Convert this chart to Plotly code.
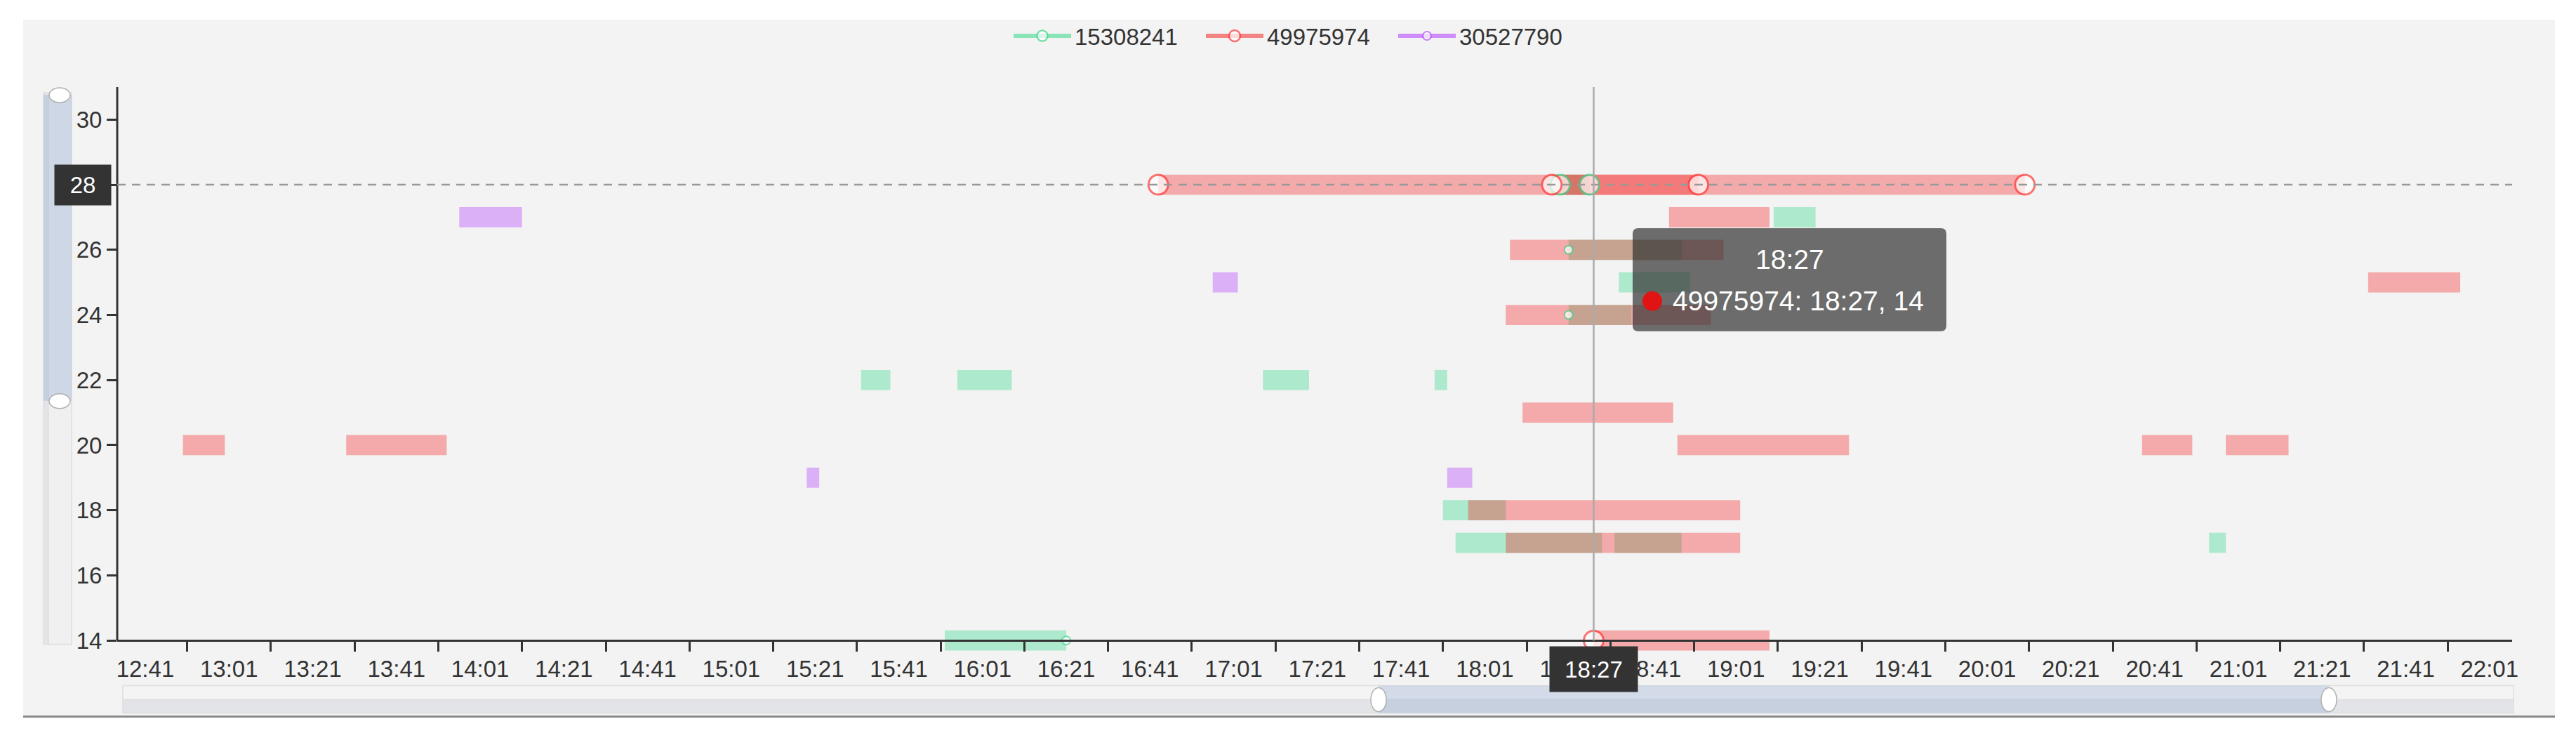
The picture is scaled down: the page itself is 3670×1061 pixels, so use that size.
import plotly.graph_objects as go

DAY = "2024-01-01 "

SERIES = ["15308241", "49975974", "30527790"]

# ---- series 15308241 (green) ----
G_ROW = [28, 27, 26, 25, 24, 22, 22, 22, 22, 18, 17, 17, 17, 14]
G_START = ["18:19", "19:10", "18:21", "18:33", "18:21", "15:32", "15:55", "17:08",
           "17:49", "17:51", "17:54", "18:32", "20:54", "15:52"]
G_END = ["18:26", "19:20", "18:48", "18:50", "18:36", "15:39", "16:08", "17:19",
         "17:52", "18:06", "18:29", "18:48", "20:58", "16:21"]

# ---- series 49975974 (red) ----
R_ROW = [28, 28, 27, 26, 25, 24, 21, 20, 20, 20, 20, 20, 18, 17, 14]
R_START = ["16:43", "18:17", "18:45", "18:07", "21:32", "18:06", "18:10", "12:50",
           "13:29", "18:47", "20:38", "20:58", "17:57", "18:06", "18:27"]
R_END = ["18:52", "20:10", "19:09", "18:58", "21:54", "18:55", "18:46", "13:00",
         "13:53", "19:28", "20:50", "21:13", "19:02", "19:02", "19:09"]

# ---- series 30527790 (purple) ----
P_ROW = [27, 25, 19, 19]
P_START = ["13:56", "16:56", "15:19", "17:52"]
P_END = ["14:11", "17:02", "15:22", "17:58"]

# points drawn with a symbol
G_PT_T = ["18:19", "18:26", "18:21", "18:21", "16:21"]
G_PT_Y = [28, 28, 26, 24, 14]
R_PT_T = ["16:43", "18:17", "18:52", "20:10", "18:27"]
R_PT_Y = [28, 28, 28, 28, 14]
P_PT_T = []
P_PT_Y = []

TICK_LABELS = ["12:41", "13:01", "13:21", "13:41", "14:01", "14:21", "14:41", "15:01",
               "15:21", "15:41", "16:01", "16:21", "16:41", "17:01", "17:21", "17:41",
               "18:01", "18:21", "18:41", "19:01", "19:21", "19:41", "20:01", "20:21",
               "20:41", "21:01", "21:21", "21:41", "22:01"]
TICK_MARKS = ["12:51", "13:11", "13:31", "13:51", "14:11", "14:31", "14:51", "15:11",
              "15:31", "15:51", "16:11", "16:31", "16:51", "17:11", "17:31", "17:51",
              "18:11", "18:31", "18:51", "19:11", "19:31", "19:51", "20:11", "20:31",
              "20:51", "21:11", "21:31", "21:51"]
Y_TICKS = [14, 16, 18, 20, 22, 24, 26, 28, 30]
X_RANGE = ["12:34:18", "22:06:24"]
Y_RANGE = [13.55, 31]

POINTER_X = "18:27"
POINTER_Y = 28
HOVER_SERIES, HOVER_T, HOVER_V = "49975974", "18:27", 14

# ---------------- styles ----------------
FONT = "Liberation Sans, Arial, sans-serif"
BASE = {"15308241": (31, 213, 125), "49975974": (245, 20, 20), "30527790": (170, 40, 255)}
STROKE = {"15308241": "#3dd68c", "49975974": "#ff3b3b", "30527790": "#b450ff"}
BAR_ALPHA = 0.33
BIG, SMALL = 28, 12

OFF = 8                      # page body margin of the html page
SW, SH = 3670, 1061          # screenshot size
W, H = SW - OFF, SH - OFF    # figure size
# plot area in screenshot pixels: x 167..3579, y 124..933.5
ML, MR, MT = 167 - OFF, SW - 3579, 124 - OFF
MB = H - (933.5 - OFF)
PW, PH = W - ML - MR, H - MT - MB


def tm(s):
    return DAY + s


def minutes(s):
    h, m = s.split(":")[:2]
    return int(h) * 60 + int(m)


def rgba(c, a):
    return "rgba(%d,%d,%d,%s)" % (c[0], c[1], c[2], a)


def P(px):  # screenshot pixel x -> paper
    return (px - OFF - ML) / PW


def Q(py):  # screenshot pixel y -> paper
    return (H - MB - (py - OFF)) / PH


fig = go.Figure()

bars = [("15308241", G_ROW, G_START, G_END),
        ("49975974", R_ROW, R_START, R_END),
        ("30527790", P_ROW, P_START, P_END)]
for name, rows, st, en in bars:
    fig.add_trace(go.Bar(
        y=rows, base=[tm(s) for s in st],
        x=[(minutes(e) - minutes(s)) * 60000 for s, e in zip(st, en)],
        orientation="h", width=0.62,
        marker=dict(color=rgba(BASE[name], BAR_ALPHA), line=dict(width=0)),
        showlegend=False, hoverinfo="skip"))

pts = [("15308241", G_PT_T, G_PT_Y), ("49975974", R_PT_T, R_PT_Y), ("30527790", P_PT_T, P_PT_Y)]
for name, ts, ys in pts:
    xs, yv, sz, lw = [], [], [], []
    for t, y in zip(ts, ys):
        big = (y == POINTER_Y) or (name == HOVER_SERIES and t == HOVER_T and y == HOVER_V)
        xs += [tm(t), None]
        yv += [y, None]
        sz += [BIG if big else SMALL, SMALL]
        lw += [3 if big else 2, 2]
    if not xs:
        xs, yv, sz, lw = [None], [None], [SMALL], [2]
    fig.add_trace(go.Scatter(
        x=xs, y=yv, name=name, mode="lines+markers", connectgaps=False,
        line=dict(color=rgba(BASE[name], 0.5), width=6),
        marker=dict(symbol="circle", size=sz, color="white",
                    line=dict(color=STROKE[name], width=lw)),
        cliponaxis=False, hoverinfo="skip"))

shapes = []
# chart container background + bottom border
shapes.append(dict(type="rect", xref="paper", yref="paper", x0=P(33), x1=P(3640), y0=Q(1021), y1=Q(28),
                   fillcolor="#f3f3f3", line=dict(width=0), layer="below"))
shapes.append(dict(type="line", xref="paper", yref="paper", x0=P(33), x1=P(3640), y0=Q(1021), y1=Q(1021),
                   line=dict(color="#8a8a8a", width=3), layer="below"))
# y axis line
shapes.append(dict(type="line", xref="paper", yref="y", x0=0, x1=0, y0=14, y1=31,
                   line=dict(color="#333333", width=3), layer="above"))
# axis pointers
shapes.append(dict(type="line", xref="paper", yref="y", x0=0, x1=1, y0=POINTER_Y, y1=POINTER_Y,
                   line=dict(color="#999999", width=2.5, dash="12px,9px"), layer="above"))
shapes.append(dict(type="line", xref="x", yref="y", x0=tm(POINTER_X), x1=tm(POINTER_X), y0=14, y1=31,
                   line=dict(color="#aaaaaa", width=2.5), layer="above"))

# horizontal slider
shapes += [
    dict(type="rect", xref="paper", yref="paper", x0=P(175), x1=P(3581), y0=Q(997), y1=Q(977),
         fillcolor="#f4f4f4", line=dict(color="#dedede", width=1.5), layer="below"),
    dict(type="rect", xref="paper", yref="paper", x0=P(175), x1=P(3581), y0=Q(1016), y1=Q(997),
         fillcolor="#e3e4e7", line=dict(color="#dedede", width=1.5), layer="below"),
    dict(type="rect", xref="paper", yref="paper", x0=P(1964), x1=P(3318), y0=Q(1016), y1=Q(977),
         fillcolor="rgba(135,163,206,0.3)", line=dict(width=0), layer="below"),
    dict(type="circle", xref="paper", yref="paper", x0=P(1953), x1=P(1975), y0=Q(1014), y1=Q(980),
         fillcolor="white", line=dict(color="#b0b0b0", width=1.5), layer="above"),
    dict(type="circle", xref="paper", yref="paper", x0=P(3307), x1=P(3329), y0=Q(1014), y1=Q(980),
         fillcolor="white", line=dict(color="#b0b0b0", width=1.5), layer="above"),
]
# vertical slider
shapes += [
    dict(type="rect", xref="paper", yref="paper", x0=P(62), x1=P(69), y0=Q(918), y1=Q(132),
         fillcolor="#e3e4e7", line=dict(color="#dedede", width=1.5), layer="below"),
    dict(type="rect", xref="paper", yref="paper", x0=P(69), x1=P(102), y0=Q(918), y1=Q(132),
         fillcolor="#f0f0f1", line=dict(color="#dedede", width=1.5), layer="below"),
    dict(type="rect", xref="paper", yref="paper", x0=P(62), x1=P(102), y0=Q(571), y1=Q(135),
         fillcolor="rgba(135,163,206,0.33)", line=dict(width=0), layer="below"),
    dict(type="circle", xref="paper", yref="paper", x0=P(70), x1=P(100), y0=Q(146), y1=Q(125),
         fillcolor="white", line=dict(color="#b0b0b0", width=1.5), layer="above"),
    dict(type="circle", xref="paper", yref="paper", x0=P(70), x1=P(100), y0=Q(582), y1=Q(561),
         fillcolor="white", line=dict(color="#b0b0b0", width=1.5), layer="above"),
]

# tooltip box (rounded)
x0, x1, y0, y1 = P(2326), P(2773), Q(472), Q(325)
rx, ry = 8 / PW, 8 / PH
path = (f"M {x0+rx},{y0} L {x1-rx},{y0} Q {x1},{y0} {x1},{y0+ry} L {x1},{y1-ry} "
        f"Q {x1},{y1} {x1-rx},{y1} L {x0+rx},{y1} Q {x0},{y1} {x0},{y1-ry} "
        f"L {x0},{y0+ry} Q {x0},{y0} {x0+rx},{y0} Z")
shapes.append(dict(type="path", xref="paper", yref="paper", path=path,
                   fillcolor="rgba(50,50,50,0.7)", line=dict(width=0), layer="above"))
shapes.append(dict(type="circle", xref="paper", yref="paper", x0=P(2340), x1=P(2368), y0=Q(443), y1=Q(415),
                   fillcolor="#e01414", line=dict(width=0), layer="above"))

annotations = [
    dict(xref="paper", yref="paper", x=P(2549.5), y=Q(370), xanchor="center", yanchor="middle",
         text=HOVER_T, showarrow=False, font=dict(family=FONT, size=39, color="white")),
    dict(xref="paper", yref="paper", x=P(2381), y=Q(429), xanchor="left", yanchor="middle",
         text=f"{HOVER_SERIES}: {HOVER_T}, {HOVER_V}", showarrow=False,
         font=dict(family=FONT, size=39, color="white")),
    dict(xref="paper", yref="y", x=P(159), y=POINTER_Y, xanchor="right", yanchor="middle",
         text=str(POINTER_Y), showarrow=False, width=80, height=57, bgcolor="#333333", borderpad=0,
         font=dict(family=FONT, size=33, color="white")),
    dict(xref="x", yref="paper", x=tm(POINTER_X), y=Q(920), xanchor="center", yanchor="top",
         text=POINTER_X, showarrow=False, width=125, height=64, bgcolor="#333333", borderpad=0,
         font=dict(family=FONT, size=33, color="white")),
]

fig.update_layout(
    width=W, height=H,
    margin=dict(l=ML, r=MR, t=MT, b=MB, pad=0),
    paper_bgcolor="white", plot_bgcolor="rgba(0,0,0,0)",
    barmode="overlay", hovermode=False,
    font=dict(family=FONT, size=33, color="#333333"),
    showlegend=True,
    legend=dict(orientation="h", x=P(1439), xanchor="left", y=Q(51), yanchor="middle",
                font=dict(family=FONT, size=33, color="#333333"), bgcolor="rgba(0,0,0,0)",
                itemwidth=82, entrywidth=177, entrywidthmode="pixels", traceorder="normal"),
    xaxis=dict(type="date", range=[tm(X_RANGE[0]), tm(X_RANGE[1])],
               tickmode="array", tickvals=[tm(t) for t in TICK_LABELS], ticktext=TICK_LABELS,
               ticks="outside", ticklen=10, tickwidth=2.5, tickcolor="rgba(0,0,0,0)",
               minor=dict(tickmode="array", tickvals=[tm(t) for t in TICK_MARKS], ticks="outside",
                          ticklen=14, tickwidth=2.5, tickcolor="#333333", showgrid=False),
               showline=True, linecolor="#333333", linewidth=3,
               anchor="free", position=(14 - Y_RANGE[0]) / (Y_RANGE[1] - Y_RANGE[0]),
               showgrid=False, zeroline=False, automargin=False,
               tickfont=dict(family=FONT, size=33, color="#333333")),
    yaxis=dict(range=Y_RANGE, tickmode="array", tickvals=Y_TICKS,
               ticks="outside", ticklen=14, tickwidth=2.5, tickcolor="#333333",
               showline=False, showgrid=False, zeroline=False, automargin=False,
               tickfont=dict(family=FONT, size=33, color="#333333")),
    shapes=shapes, annotations=annotations,
)

fig.write_html("out.html")
